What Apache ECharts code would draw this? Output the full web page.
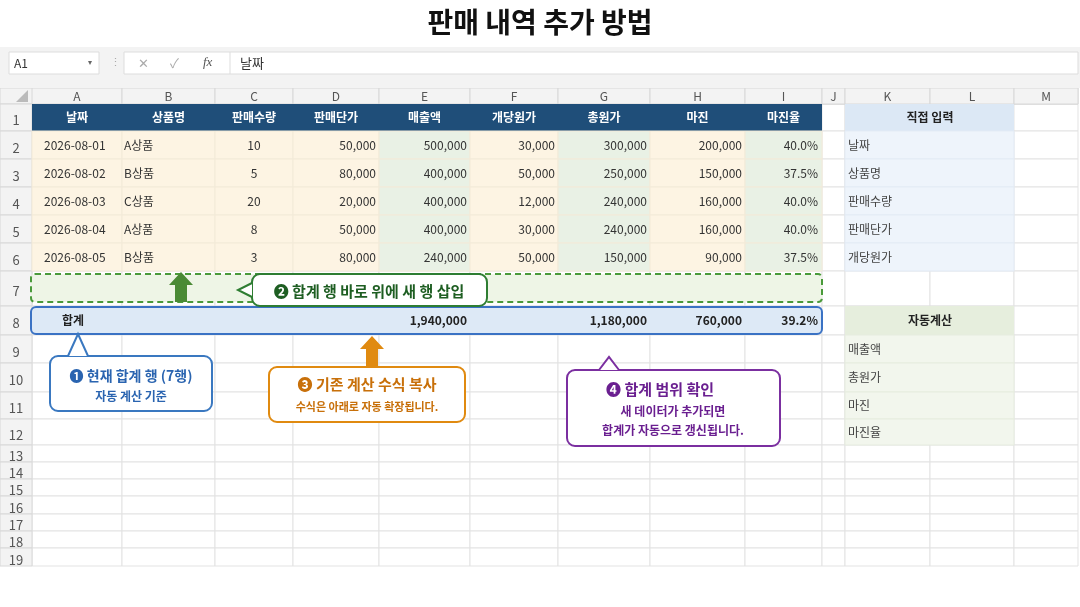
<!DOCTYPE html><html><head><meta charset="utf-8">
<script src="https://cdn.jsdelivr.net/npm/echarts@6/dist/echarts.min.js"></script>
<style>html,body{margin:0;padding:0;background:#fff}#c{width:1080px;height:607px}</style></head><body><div id="c"></div>
<script>
const title = '판매 내역 추가 방법';
const headers = ['날짜','상품명','판매수량','판매단가','매출액','개당원가','총원가','마진','마진율'];
const dates = ['2026-08-01','2026-08-02','2026-08-03','2026-08-04','2026-08-05'];
const products = ['A상품','B상품','C상품','A상품','B상품'];
const qty = [10,5,20,8,3];
const price = [50000,80000,20000,50000,80000];
const sales = [500000,400000,400000,400000,240000];
const unitCost = [30000,50000,12000,30000,50000];
const totalCost = [300000,250000,240000,240000,150000];
const margin = [200000,150000,160000,160000,90000];
const marginRate = [40.0,37.5,40.0,40.0,37.5];
const totals = {sales:1940000,totalCost:1180000,margin:760000,rate:39.2};
const colLetters = ['A','B','C','D','E','F','G','H','I','J','K','L','M'];
const inputLabels = ['날짜','상품명','판매수량','판매단가','개당원가'];
const autoLabels = ['매출액','총원가','마진','마진율'];

const colX = [32,122,215,293,379,470,558,650,745,822,845,930,1014,1078];
const rowY = [104,131,159,187,215,243,271,306,335,363,392,419,445,462,479,496,514,531,548,566];
const fmt = v => v.toLocaleString('en-US');
const F = '"Noto Sans CJK KR","Noto Sans",sans-serif';

const rects = [];
const texts = [];
for (let r=0;r<19;r++) for (let c=0;c<13;c++) rects.push([colX[c],rowY[r],colX[c+1],rowY[r+1],'#ffffff','#e3e3e3',1,0,0]);
rects.push([0,88,1078,104,'#f3f3f3','#d8d8d8',1,0,0]);
for (let c=0;c<13;c++){ rects.push([colX[c],88,colX[c+1],104,'#f3f3f3','#d8d8d8',1,0,0]); texts.push([(colX[c]+colX[c+1])/2,96,colLetters[c],'center','#555',12,'normal']); }
for (let r=0;r<19;r++){ rects.push([0,rowY[r],32,rowY[r+1],'#f3f3f3','#d8d8d8',1,0,0]); texts.push([16,(rowY[r]+rowY[r+1])/2+3,String(r+1),'center','#555',13,'normal']); }
for (let c=0;c<9;c++){ rects.push([colX[c],104,colX[c+1],131,'#1f4e79','#1f4e79',0,0,0]); texts.push([(colX[c]+colX[c+1])/2,117,headers[c],'center','#fff',12,'bold']); }
const green=[4,6,8];
for (let i=0;i<5;i++){
  const y0=rowY[i+1], y1=rowY[i+2], ym=(y0+y1)/2;
  for (let c=0;c<9;c++) rects.push([colX[c],y0,colX[c+1],y1,green.includes(c)?'#e9f1e5':'#fdf4e3','#f3ead8',1,0,0]);
  texts.push([44,ym,dates[i],'left','#333',12,'normal']);
  texts.push([124,ym,products[i],'left','#333',12,'normal']);
  texts.push([254,ym,String(qty[i]),'center','#333',12,'normal']);
  const vals=[price[i],sales[i],unitCost[i],totalCost[i],margin[i]];
  for (let k=0;k<5;k++) texts.push([colX[k+4]-3,ym,fmt(vals[k]),'right','#333',12,'normal']);
  texts.push([818,ym,marginRate[i].toFixed(1)+'%','right','#333',12,'normal']);
}
rects.push([31,274,822,302,'#eef5e6','#4a9a3a',2,[6,4],4]);
rects.push([31,307,822,334,'#dde9f6','#3a72c4',2,0,5]);
texts.push([62,320,'합계','left','#222',12,'bold']);
texts.push([467,320,fmt(totals.sales),'right','#222',12,'bold']);
texts.push([647,320,fmt(totals.totalCost),'right','#222',12,'bold']);
texts.push([742,320,fmt(totals.margin),'right','#222',12,'bold']);
texts.push([818,320,totals.rate.toFixed(1)+'%','right','#222',12,'bold']);
rects.push([845,104,1014,131,'#dce8f5','#dce8f5',0,0,0]);
texts.push([930,117,'직접 입력','center','#222',12,'bold']);
for (let i=0;i<5;i++){ rects.push([845,rowY[i+1],1014,rowY[i+2],'#eef4fb','#e3ebf5',1,0,0]); texts.push([848,(rowY[i+1]+rowY[i+2])/2,inputLabels[i],'left','#444',12,'normal']); }
rects.push([845,306,1014,335,'#e6eedd','#e6eedd',0,0,0]);
texts.push([930,320,'자동계산','center','#222',12,'bold']);
for (let i=0;i<4;i++){ rects.push([845,rowY[i+8],1014,rowY[i+9],'#f2f6ed','#e6ecdf',1,0,0]); texts.push([848,(rowY[i+8]+rowY[i+9])/2,autoLabels[i],'left','#444',12,'normal']); }

const chart = echarts.init(document.getElementById('c'));
function rectEl(d,api){
  const p0=api.coord([d[0],d[1]]), p1=api.coord([d[2],d[3]]);
  return {type:'rect',shape:{x:p0[0],y:p0[1],width:p1[0]-p0[0],height:p1[1]-p0[1],r:d[8]},
    style:{fill:d[4],stroke:d[6]?d[5]:null,lineWidth:d[6],lineDash:d[7]||null}};
}
function bubble(x,y,w,h,tx,ty,dir,color){
  const els=[{type:'rect',shape:{x,y,width:w,height:h,r:8},style:{fill:'#fff',stroke:color,lineWidth:2}}];
  let pts;
  if(dir==='up') pts=[[tx-10,y],[tx,ty],[tx+10,y]];
  else pts=[[x,ty-7],[tx,ty],[x,ty+7]];
  els.push({type:'polygon',shape:{points:pts},style:{fill:'#fff'}});
  els.push({type:'polyline',shape:{points:pts},style:{stroke:color,lineWidth:2,fill:null}});
  return els;
}
function arrow(cx,top,bot,color){
  return {type:'polygon',shape:{points:[[cx,top],[cx+12,top+13],[cx+6,top+13],[cx+6,bot],[cx-6,bot],[cx-6,top+13],[cx-12,top+13]]},style:{fill:color}};
}
const graphic = [
  {type:'text',x:540,y:22,style:{text:title,font:'bold 28px '+F,fill:'#111',align:'center',verticalAlign:'middle'}},
  {type:'rect',shape:{x:0,y:47,width:1080,height:41},style:{fill:'#f3f3f3'}},
  {type:'rect',shape:{x:9,y:52,width:90,height:22},style:{fill:'#fff',stroke:'#ddd'}},
  {type:'text',x:14,y:63,style:{text:'A1',font:'12px '+F,fill:'#333',verticalAlign:'middle'}},
  {type:'text',x:88,y:62,style:{text:'▾',font:'8px '+F,fill:'#666',verticalAlign:'middle'}},
  {type:'text',x:110,y:62,style:{text:'⋮',font:'11px '+F,fill:'#aaa',verticalAlign:'middle'}},
  {type:'rect',shape:{x:124,y:52,width:954,height:22},style:{fill:'#fff',stroke:'#ddd'}},
  {type:'text',x:138,y:63,style:{text:'✕',font:'13px '+F,fill:'#aaa',verticalAlign:'middle'}},
  {type:'text',x:170,y:63,style:{text:'✓',font:'13px '+F,fill:'#aaa',verticalAlign:'middle'}},
  {type:'text',x:203,y:63,style:{text:'fx',font:'italic 13px serif',fill:'#555',verticalAlign:'middle'}},
  {type:'line',shape:{x1:230,y1:52,x2:230,y2:74},style:{stroke:'#ddd'}},
  {type:'text',x:240,y:63,style:{text:'날짜',font:'13px '+F,fill:'#333',verticalAlign:'middle'}},
  {type:'polygon',shape:{points:[[28,90],[28,102],[16,102]]},style:{fill:'#bbb'}},
  arrow(181,272,302,'#4a8a35'),
  arrow(372,336,366,'#e08a10'),
  ...bubble(252,274,235,32,238,290,'left','#2e7d32'),
  {type:'text',x:369,y:291,style:{text:'❷ 합계 행 바로 위에 새 행 삽입',font:'bold 15px '+F,fill:'#1e5e22',align:'center',verticalAlign:'middle'}},
  ...bubble(50,356,162,55,78,334,'up','#3a78c0'),
  {type:'text',x:131,y:376,style:{text:'❶ 현재 합계 행 (7행)',font:'bold 14px '+F,fill:'#2a64b0',align:'center',verticalAlign:'middle'}},
  {type:'text',x:131,y:396,style:{text:'자동 계산 기준',font:'bold 12px '+F,fill:'#2a64b0',align:'center',verticalAlign:'middle'}},
  {type:'rect',shape:{x:269,y:367,width:196,height:55,r:8},style:{fill:'#fff',stroke:'#e08a10',lineWidth:2}},
  {type:'text',x:367,y:384,style:{text:'❸ 기존 계산 수식 복사',font:'bold 15px '+F,fill:'#c8700a',align:'center',verticalAlign:'middle'}},
  {type:'text',x:367,y:407,style:{text:'수식은 아래로 자동 확장됩니다.',font:'bold 11px '+F,fill:'#c8700a',align:'center',verticalAlign:'middle'}},
  ...bubble(567,370,213,76,609,357,'up','#7b2fa0'),
  {type:'text',x:660,y:389,style:{text:'❹ 합계 범위 확인',font:'bold 15px '+F,fill:'#6a1f90',align:'center',verticalAlign:'middle'}},
  {type:'text',x:673,y:411,style:{text:'새 데이터가 추가되면',font:'bold 12px '+F,fill:'#6a1f90',align:'center',verticalAlign:'middle'}},
  {type:'text',x:673,y:430,style:{text:'합계가 자동으로 갱신됩니다.',font:'bold 12px '+F,fill:'#6a1f90',align:'center',verticalAlign:'middle'}}
];
chart.setOption({
  animation:false,
  grid:{left:0,right:0,top:0,bottom:0},
  xAxis:{type:'value',min:0,max:1080,show:false},
  yAxis:{type:'value',min:0,max:607,inverse:true,show:false},
  series:[
    {type:'custom',data:rects.map((d,i)=>i),renderItem:(p,api)=>rectEl(rects[p.dataIndex],api),z:1,silent:true},
    {type:'custom',data:texts.map((d,i)=>i),z:5,silent:true,renderItem:(p,api)=>{const d=texts[p.dataIndex];const pt=api.coord([d[0],d[1]]);
      return {type:'text',x:pt[0],y:pt[1],style:{text:d[2],font:d[6]+' '+d[5]+'px '+F,fill:d[4],align:d[3],verticalAlign:'middle'}};}}
  ],
  graphic:graphic.map(g=>Object.assign({z:100},g))
});
</script></body></html>
